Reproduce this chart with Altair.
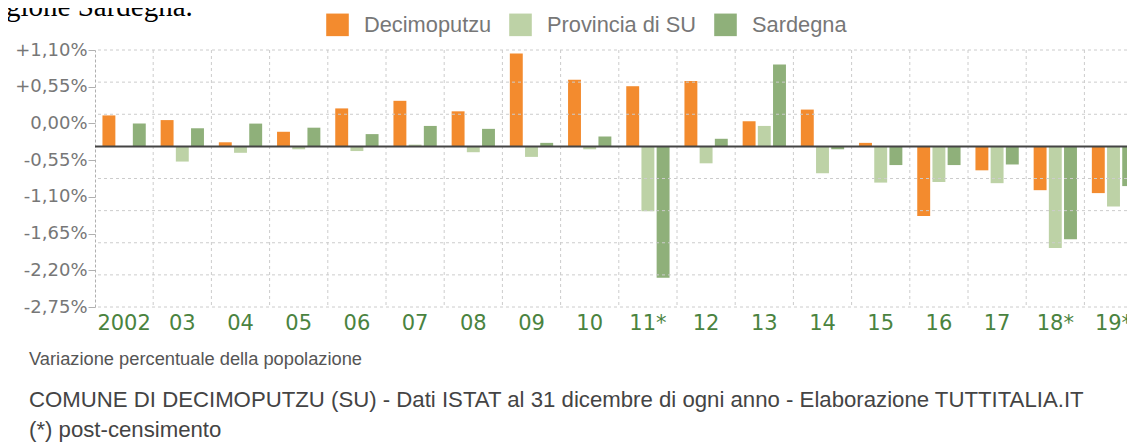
import json
import altair as alt
import pandas as pd

# ---------------- data ----------------
years = ["2002", "03", "04", "05", "06", "07", "08", "09", "10", "11*",
         "12", "13", "14", "15", "16", "17", "18*", "19*"]
series = ["Decimoputzu", "Provincia di SU", "Sardegna"]
decimoputzu = [0.53, 0.45, 0.07, 0.25, 0.65, 0.78, 0.60, 1.59, 1.14, 1.03,
               1.12, 0.43, 0.63, 0.06, -1.19, -0.41, -0.75, -0.80]
provincia = [0.00, -0.26, -0.11, -0.05, -0.08, 0.03, -0.10, -0.18, -0.05, -1.11,
             -0.29, 0.35, -0.46, -0.62, -0.61, -0.63, -1.74, -1.03]
sardegna = [0.39, 0.31, 0.39, 0.32, 0.21, 0.35, 0.30, 0.06, 0.17, -2.25,
            0.13, 1.40, -0.05, -0.32, -0.32, -0.31, -1.59, -0.68]
colors = ["#F38B2E", "#BDD2A6", "#8FB07A"]
grid_values = [1.65, 1.10, 0.55, -0.55, -1.10, -1.65, -2.20, -2.75]
tick_labels = ["+1,10%", "+0,55%", "0,00%", "-0,55%", "-1,10%", "-1,65%", "-2,20%", "-2,75%"]
y_min, y_max = -2.75, 1.65
title_text = "Variazione percentuale della popolazione"
subtitle_lines = [
    "COMUNE DI DECIMOPUTZU (SU) - Dati ISTAT al 31 dicembre di ogni anno - Elaborazione TUTTITALIA.IT",
    "(*) post-censimento",
]
page_text = "gione Sardegna."

# ---------------- tables ----------------
rows = []
for vals, name in zip([decimoputzu, provincia, sardegna], series):
    for y, v in zip(years, vals):
        rows.append({"year": y, "series": name, "value": v})
df = pd.DataFrame(rows)
df_grid = pd.DataFrame({"value": grid_values})
df_zero = pd.DataFrame({"value": [0.0]})
df_vgrid = pd.DataFrame({"year": years[1:]})
df_page = pd.DataFrame({"t": [page_text]})

n_lab = len(tick_labels)
tick_pos = [y_max - i * (y_max - y_min) / (n_lab - 1) for i in range(n_lab)]
label_expr = "%s[round((%s - datum.value) * %d / %s)]" % (
    json.dumps(tick_labels), y_max, n_lab - 1, y_max - y_min)

# visible plot width; the band scale runs a little past the right edge, as in the reference
W, H = 1032, 257
x_scale = alt.Scale(domain=years, range=[0, 1047.6], paddingInner=0, paddingOuter=0)
y_scale = alt.Scale(domain=[y_min, y_max], nice=False, zero=False)

x_axis = alt.Axis(
    title=None, labelAngle=0, ticks=False, tickSize=0, domain=False, grid=False,
    labelColor="#4a8340", labelFont="DejaVu Sans", labelFontSize=21, labelPadding=5)
y_axis = alt.Axis(
    title=None, values=tick_pos, labelExpr=label_expr, grid=False,
    domain=True, domainColor="#b0b0b0", domainDash=[3, 2],
    tickColor="#b0b0b0", tickSize=7, labelColor="#777777",
    labelFont="DejaVu Sans", labelFontSize=18, labelPadding=1)

bars = alt.Chart(df).mark_bar().encode(
    x=alt.X("year:N", scale=x_scale, axis=x_axis),
    xOffset=alt.XOffset("series:N", scale=alt.Scale(domain=series, paddingInner=0.15, paddingOuter=0.49)),
    y=alt.Y("value:Q", scale=y_scale, axis=y_axis),
    color=alt.Color("series:N", scale=alt.Scale(domain=series, range=colors), legend=alt.Legend(
        title=None, orient="none", legendX=231, legendY=-37, direction="horizontal",
        symbolType="square", symbolSize=510, symbolStrokeWidth=0, symbolOpacity=1,
        labelFont="Liberation Sans", labelFontSize=21.8, labelColor="#777777",
        labelOffset=15, columnPadding=17)),
)

hgrid = alt.Chart(df_grid).mark_rule(color="#cccccc", strokeDash=[3, 3], strokeWidth=1).encode(
    y=alt.Y("value:Q", scale=y_scale, axis=y_axis)
)
vgrid = alt.Chart(df_vgrid).mark_rule(color="#cccccc", strokeDash=[3, 3], strokeWidth=1).encode(
    x=alt.X("year:N", scale=x_scale, bandPosition=0, axis=x_axis)
)
zero = alt.Chart(df_zero).mark_rule(color="#444444", strokeWidth=2).encode(
    y=alt.Y("value:Q", scale=y_scale, axis=y_axis)
)

page = alt.Chart(df_page).mark_text(
    align="left", baseline="alphabetic", font="Liberation Serif", fontSize=29, color="#000000"
).encode(x=alt.value(-89), y=alt.value(-34), text="t:N")

chart = alt.layer(bars, hgrid, vgrid, zero, page).properties(
    width=W, height=H,
    autosize=alt.AutoSizeParams(type="none"),
    padding={"left": 87, "top": 42, "right": 0, "bottom": 135},
    title=alt.TitleParams(
        text=title_text, subtitle=subtitle_lines, orient="bottom", anchor="start",
        frame="group", dx=-66, offset=18,
        font="Liberation Sans", fontSize=18.3, fontWeight="normal", color="#555555",
        subtitleFont="Liberation Sans", subtitleFontSize=22.2, subtitleColor="#444444",
        subtitlePadding=20, subtitleLineHeight=30),
).configure_view(stroke=None)

chart.save("out.html", embed_options={"renderer": "svg", "actions": False})
